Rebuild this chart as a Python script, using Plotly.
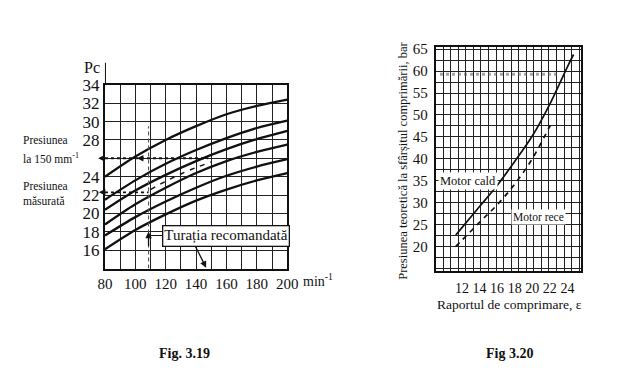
import plotly.graph_objects as go

# ---------------- Fig. 3.19 data ----------------
speed = [80, 100, 120, 140, 160, 180, 200]
pc_1 = [24.0, 26.2, 28.0, 29.5, 30.8, 31.7, 32.4]
pc_2 = [21.5, 23.6, 25.4, 26.9, 28.2, 29.3, 30.1]
pc_3 = [20.4, 22.5, 24.2, 25.7, 27.0, 28.1, 29.0]
pc_4 = [18.8, 21.0, 22.8, 24.4, 25.7, 26.7, 27.5]
pc_5 = [17.6, 19.6, 21.3, 22.8, 24.1, 25.1, 25.9]
pc_6 = [16.1, 18.2, 19.9, 21.4, 22.6, 23.6, 24.4]
meas_speed = [110, 120, 130, 140, 150]
meas_pc = [22.6, 23.5, 24.3, 25.0, 25.6]
p150_x = [80, 148]
p150_y = [26, 26]
pmeas_x = [80, 108.7]
pmeas_y = [22.3, 22.3]
rec_x = [108.7, 108.7]
rec_y = [14, 29.5]
left_yticks = [16, 18, 20, 22, 24, 26, 28, 30, 32, 34]
left_xticks = [80, 90, 100, 110, 120, 130, 140, 150, 160, 170, 180, 190, 200]

# ---------------- Fig. 3.20 data ----------------
eps_cald = [11.3, 12, 14, 16, 18, 20, 22, 24, 24.7]
p_cald = [22.6, 24.3, 29.1, 33.9, 39.4, 45.2, 52.5, 61.0, 63.8]
eps_rece = [11.3, 12, 14, 16, 18, 20, 22, 22.3]
p_rece = [20.0, 21.4, 25.5, 29.5, 34.2, 40.0, 47.4, 48.5]
right_xticks = [12, 14, 16, 18, 20, 22, 24]
right_ygrid = [15 + 2.5 * i for i in range(21)]

SERIF = "Liberation Serif"
BLACK = "#111111"

fig = go.Figure()

for ys in [pc_1, pc_2, pc_3, pc_4, pc_5, pc_6]:
    fig.add_trace(go.Scatter(x=speed, y=ys, mode="lines", line=dict(color=BLACK, width=2.3, shape="spline", smoothing=0.8),
                             xaxis="x", yaxis="y", showlegend=False, hoverinfo="skip"))
fig.add_trace(go.Scatter(x=meas_speed, y=meas_pc, mode="lines", line=dict(color=BLACK, width=1.5, dash="5px,6px", shape="spline"),
                         xaxis="x", yaxis="y", showlegend=False))
fig.add_trace(go.Scatter(x=p150_x, y=p150_y, mode="lines", line=dict(color=BLACK, width=2, dash="dot"),
                         xaxis="x", yaxis="y", showlegend=False))
fig.add_trace(go.Scatter(x=pmeas_x, y=pmeas_y, mode="lines", line=dict(color=BLACK, width=1.6, dash="dot"),
                         xaxis="x", yaxis="y", showlegend=False))
fig.add_trace(go.Scatter(x=rec_x, y=rec_y, mode="lines", line=dict(color="#555", width=1.1, dash="4px,3px"),
                         xaxis="x", yaxis="y", showlegend=False))

fig.add_trace(go.Scatter(x=eps_cald, y=p_cald, mode="lines", line=dict(color=BLACK, width=1.7, shape="spline"),
                         xaxis="x2", yaxis="y2", showlegend=False))
fig.add_trace(go.Scatter(x=eps_rece, y=p_rece, mode="lines", line=dict(color=BLACK, width=1.7, dash="5px,5px", shape="spline"),
                         xaxis="x2", yaxis="y2", showlegend=False))

W, H = 624, 373
def px(x):
    return x / W
def py(y):
    return 1 - y / H

grid = "#222222"
fig.update_layout(
    width=W, height=H, margin=dict(l=0, r=0, t=0, b=0),
    paper_bgcolor="white", plot_bgcolor="white",
    font=dict(family=SERIF, color=BLACK),
    xaxis=dict(domain=[px(100), px(288)], range=[80, 200], tickmode="array", tickvals=left_xticks,
               ticktext=[str(v) if v % 20 == 0 else "" for v in left_xticks],
               showgrid=True, gridcolor=grid, gridwidth=1.3, zeroline=False,
               showline=True, linecolor=BLACK, linewidth=2, mirror=True, ticks="",
               tickfont=dict(size=15, family=SERIF, color=BLACK), anchor="y"),
    yaxis=dict(domain=[py(266), py(77.7)], range=[14, 34], tickmode="array", tickvals=left_yticks,
               ticktext=["" if v == 26 else str(v) for v in left_yticks],
               showgrid=True, gridcolor=grid, gridwidth=1.3, zeroline=False,
               showline=True, linecolor=BLACK, linewidth=2, mirror=True, ticks="",
               tickfont=dict(size=17, family=SERIF, color=BLACK), anchor="x"),
    xaxis2=dict(domain=[px(441), px(591.5)], range=[9, 25.6], tickmode="array", tickvals=right_xticks,
                showgrid=False, zeroline=False,
                minor=dict(tick0=9, dtick=0.86, showgrid=True, gridcolor=grid, gridwidth=1.1, ticks=""),
                showline=True, linecolor=BLACK, linewidth=1.8, mirror=True, ticks="",
                tickfont=dict(size=14, family=SERIF, color=BLACK), anchor="y2", ticklabelstandoff=4),
    yaxis2=dict(domain=[py(268), py(39)], range=[14.5, 65.5], tickmode="array", tickvals=right_ygrid,
                ticktext=[str(int(v)) if (v % 5 == 0 and v >= 20) else "" for v in right_ygrid],
                showgrid=True, gridcolor=grid, gridwidth=1.1, zeroline=False,
                showline=True, linecolor=BLACK, linewidth=1.8, mirror=True, ticks="",
                tickfont=dict(size=15, family=SERIF, color=BLACK), anchor="x2", ticklabelstandoff=3),
)

ann = []
def text(x, y, s, size=12, xanchor="center", **kw):
    d = dict(xref="paper", yref="paper", x=x, y=y, text=s, showarrow=False,
             font=dict(family=SERIF, size=size, color=BLACK), xanchor=xanchor, yanchor="middle")
    d.update(kw)
    ann.append(d)

# Fig 3.19 labels
text(px(87), py(60), "Pc", 16)
text(px(302), py(278), "min<sup>-1</sup>", 14, xanchor="left")
text(px(13), py(134), "Presiunea", 11.5, xanchor="left")
text(px(13), py(153), "la 150 mm<sup>-1</sup>", 11.5, xanchor="left")
text(px(13), py(181), "Presiunea", 11.5, xanchor="left")
text(px(13), py(197), "măsurată", 11.5, xanchor="left")
text(px(182), py(353), "<b>Fig. 3.19</b>", 14)
text(px(517), py(353), "<b>Fig 3.20</b>", 14)

# Turatia recomandata box
ann.append(dict(xref="x", yref="y", x=160, y=17.6, text="Turația recomandată", showarrow=False,
                xanchor="center", yanchor="middle",
                font=dict(family=SERIF, size=15, color=BLACK), bgcolor="white", bordercolor=BLACK,
                borderwidth=1.3, borderpad=1))
# arrows
def arrow(x, y, ax, ay, xr="x", yr="y", head=2, size=1.0, w=1.3):
    ann.append(dict(xref=xr, yref=yr, axref=xr, ayref=yr, x=x, y=y, ax=ax, ay=ay, text="",
                    showarrow=True, arrowhead=head, arrowsize=size, arrowwidth=w, arrowcolor=BLACK))
arrow(75.5, 26, 81, 26)
arrow(101, 26, 106, 26)
arrow(76, 22.3, 81, 22.3)
arrow(146.6, 14.1, 139, 16.6)
arrow(108.7, 18.0, 108.7, 16.3)

# Fig 3.20 labels
text(px(408), py(156), "Presiunea teoretică la sfârșitul comprimării, bar", 12.5, textangle=-90)
text(px(517), py(303), "Raportul de comprimare, ε", 13.5)
text(px(474), py(176), "Motor cald", 12.5, bgcolor="white")
text(px(547), py(213), "Motor rece", 11.5, bgcolor="white")
fig.update_layout(annotations=ann)

shapes = [
    # y axis extension above the plot (Fig 3.19)
    dict(type="line", xref="x", yref="y domain", x0=80, x1=80, y0=1, y1=1.12, line=dict(color=BLACK, width=2)),
    # connector from box to recommended-speed line
    dict(type="line", xref="x", yref="y", x0=108.7, x1=120.5, y0=17.6, y1=17.6, line=dict(color=BLACK, width=1.2)),
    # scan smudge band (Fig 3.20)
    dict(type="line", xref="x2", yref="y2", x0=9.5, x1=23.0, y0=59.3, y1=59.3,
         line=dict(color="rgba(90,90,90,0.55)", width=3, dash="dot")),
]
fig.update_layout(shapes=shapes)

fig.write_html("out.html", config={"displayModeBar": False},
               post_script="document.body.style.margin='0';document.body.style.padding='0';")
